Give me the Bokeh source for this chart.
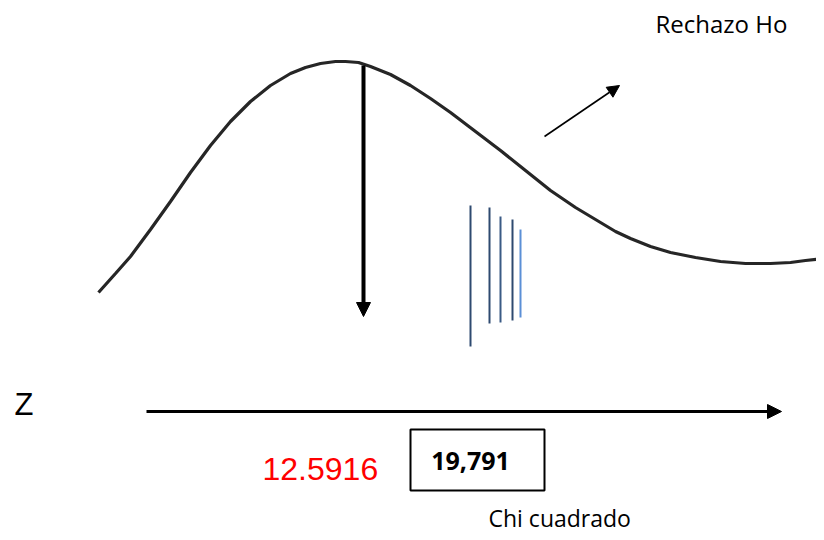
from bokeh.plotting import figure
from bokeh.models import Arrow, NormalHead, Range1d
from bokeh.core.properties import value
from bokeh.embed import file_html
from bokeh.resources import INLINE

# density curve (reference pixel coordinates)
curve_x = [98, 115, 130, 150, 170, 190, 210, 230, 250, 270, 290, 305, 320, 335, 345, 358, 370, 390, 410, 430, 450, 475, 500, 525, 550, 575, 600, 615, 630, 650, 670, 695, 720, 745, 770, 790, 805, 824]
curve_y = [292, 273, 256, 229, 201, 172, 145, 121, 101, 85, 73, 67, 63, 61, 61, 62, 66, 74, 85, 98, 112, 131, 150, 170, 190, 207, 222, 231, 238, 246, 252, 257, 261, 263, 263, 262, 260, 258]

# critical value arrow
crit_x = [363]
crit_y0 = [65]
crit_y1 = [316]

# hatch lines in rejection region
hatch_x = [470, 489, 500, 512, 520]
hatch_y0 = [205, 207, 216, 219, 229]
hatch_y1 = [346, 323, 322, 320, 317]
hatch_colors = ["#2e4a70", "#2e4a70", "#3a5a85", "#2e4a70", "#5b8fd6"]

# axis arrow
axis_x0, axis_x1, axis_y = 146, 781, 411

# pointer arrow to label
ptr = (544, 136, 619, 85)

labels_text = ["Z", "12.5916", "Rechazo Ho", "Chi cuadrado"]

p = figure(width=816, height=532, x_range=Range1d(0, 816), y_range=Range1d(532, 0),
           output_backend="svg", toolbar_location=None, min_border=0)
p.axis.visible = False
p.grid.visible = False
p.outline_line_color = None
p.background_fill_color = "white"

p.line(curve_x, curve_y, line_width=3.2, line_color="#262626")

p.add_layout(Arrow(end=NormalHead(size=14, fill_color="black", line_color="black"),
                   x_start=crit_x[0], y_start=crit_y0[0], x_end=crit_x[0], y_end=crit_y1[0],
                   line_width=4, line_color="black"))

p.segment(x0=hatch_x, y0=hatch_y0, x1=hatch_x, y1=hatch_y1, line_color=hatch_colors, line_width=2)

p.add_layout(Arrow(end=NormalHead(size=14, fill_color="black", line_color="black"),
                   x_start=axis_x0, y_start=axis_y, x_end=axis_x1, y_end=axis_y,
                   line_width=3, line_color="black"))

p.add_layout(Arrow(end=NormalHead(size=12, fill_color="black", line_color="black"),
                   x_start=ptr[0], y_start=ptr[1], x_end=ptr[2], y_end=ptr[3],
                   line_width=1.6, line_color="black"))

# box around value
p.quad(left=[410], right=[544], top=[429], bottom=[490], fill_color=None, line_color="black", line_width=2)

p.text(x=[14], y=[404], text=[labels_text[0]], text_font=value("Liberation Sans"), text_font_size="31px",
       text_baseline="middle", text_color="black")
p.text(x=[262], y=[468], text=[labels_text[1]], text_font=value("Liberation Sans"), text_font_size="32px",
       text_baseline="middle", text_color="#ff0000")
p.text(x=[470], y=[460], text=["19,791"], text_font=value("Open Sans"), text_font_size="25px",
       text_font_style="bold", text_baseline="middle", text_align="center", text_color="black")
p.text(x=[655], y=[23], text=[labels_text[2]], text_font=value("Open Sans"), text_font_size="24px",
       text_baseline="middle", text_color="black")
p.text(x=[488], y=[517], text=[labels_text[3]], text_font=value("Open Sans"), text_font_size="23px",
       text_baseline="middle", text_color="black")

open("out.html", "w").write(file_html(p, INLINE))
